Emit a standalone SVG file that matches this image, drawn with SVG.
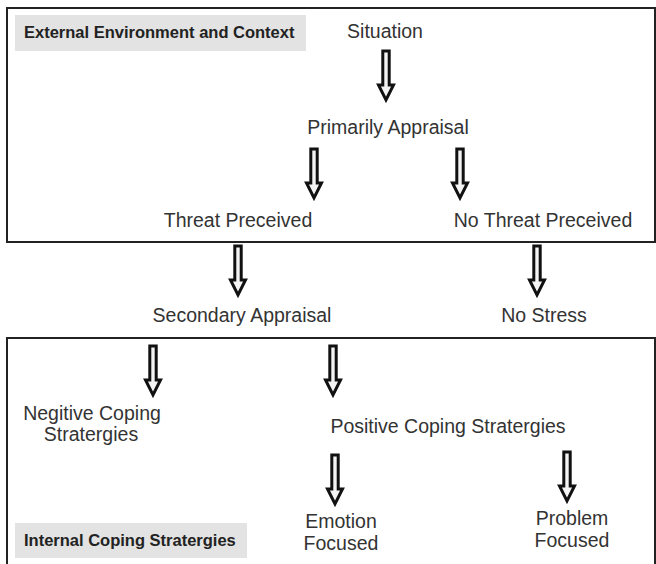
<svg xmlns="http://www.w3.org/2000/svg" xmlns:xlink="http://www.w3.org/1999/xlink" width="656" height="564" viewBox="0 0 656 564">
<style>
.box{fill:none;stroke:#222;stroke-width:2}
.lbl{fill:#e3e3e3}
.t{font-family:"Liberation Sans",Arial,sans-serif;font-size:19.5px;fill:#333;text-anchor:middle}
.b{font-family:"Liberation Sans",Arial,sans-serif;font-size:16.5px;font-weight:bold;fill:#222}
.arr{fill:#f4f4f4;stroke:#111;stroke-width:3;stroke-linejoin:miter;stroke-miterlimit:10}
</style>
<defs>
<path id="dn" class="arr" d="M-3.2,0 H3.2 V34 H7.5 L0,49 L-7.5,34 H-3.2 Z"/>
</defs>
<rect width="656" height="564" fill="#fff"/>
<g id="ext-box"><rect class="box" x="7" y="8" width="648" height="234"/><rect class="lbl" x="15" y="15" width="291" height="36"/><text class="b" x="24" y="38">External Environment and Context</text></g>
<g id="int-box"><rect class="box" x="7" y="338" width="648" height="230"/><rect class="lbl" x="15" y="523" width="232" height="35"/><text class="b" x="24" y="546">Internal Coping Stratergies</text></g>
<g id="situation"><text class="t" x="385" y="38">Situation</text></g>
<g id="primary"><text class="t" x="388" y="134">Primarily Appraisal</text></g>
<g id="threat"><text class="t" x="238" y="227">Threat Preceived</text></g>
<g id="nothreat"><text class="t" x="543" y="227">No Threat Preceived</text></g>
<g id="secondary"><text class="t" x="242" y="322">Secondary Appraisal</text></g>
<g id="nostress"><text class="t" x="544" y="322">No Stress</text></g>
<g id="negative"><text class="t" x="92" y="420">Negitive Coping</text><text class="t" x="91" y="441">Stratergies</text></g>
<g id="positive"><text class="t" x="448" y="433">Positive Coping Stratergies</text></g>
<g id="emotion"><text class="t" x="341" y="528">Emotion</text><text class="t" x="341" y="550">Focused</text></g>
<g id="problem"><text class="t" x="572" y="525">Problem</text><text class="t" x="572" y="547">Focused</text></g>
<g id="connectors">
<use xlink:href="#dn" x="386" y="51"/>
<use xlink:href="#dn" x="314" y="149"/>
<use xlink:href="#dn" x="460" y="149"/>
<use xlink:href="#dn" x="238" y="246"/>
<use xlink:href="#dn" x="537" y="246"/>
<use xlink:href="#dn" x="153" y="346"/>
<use xlink:href="#dn" x="333" y="346"/>
<use xlink:href="#dn" x="335" y="455"/>
<use xlink:href="#dn" x="567" y="452"/>
</g>
</svg>
